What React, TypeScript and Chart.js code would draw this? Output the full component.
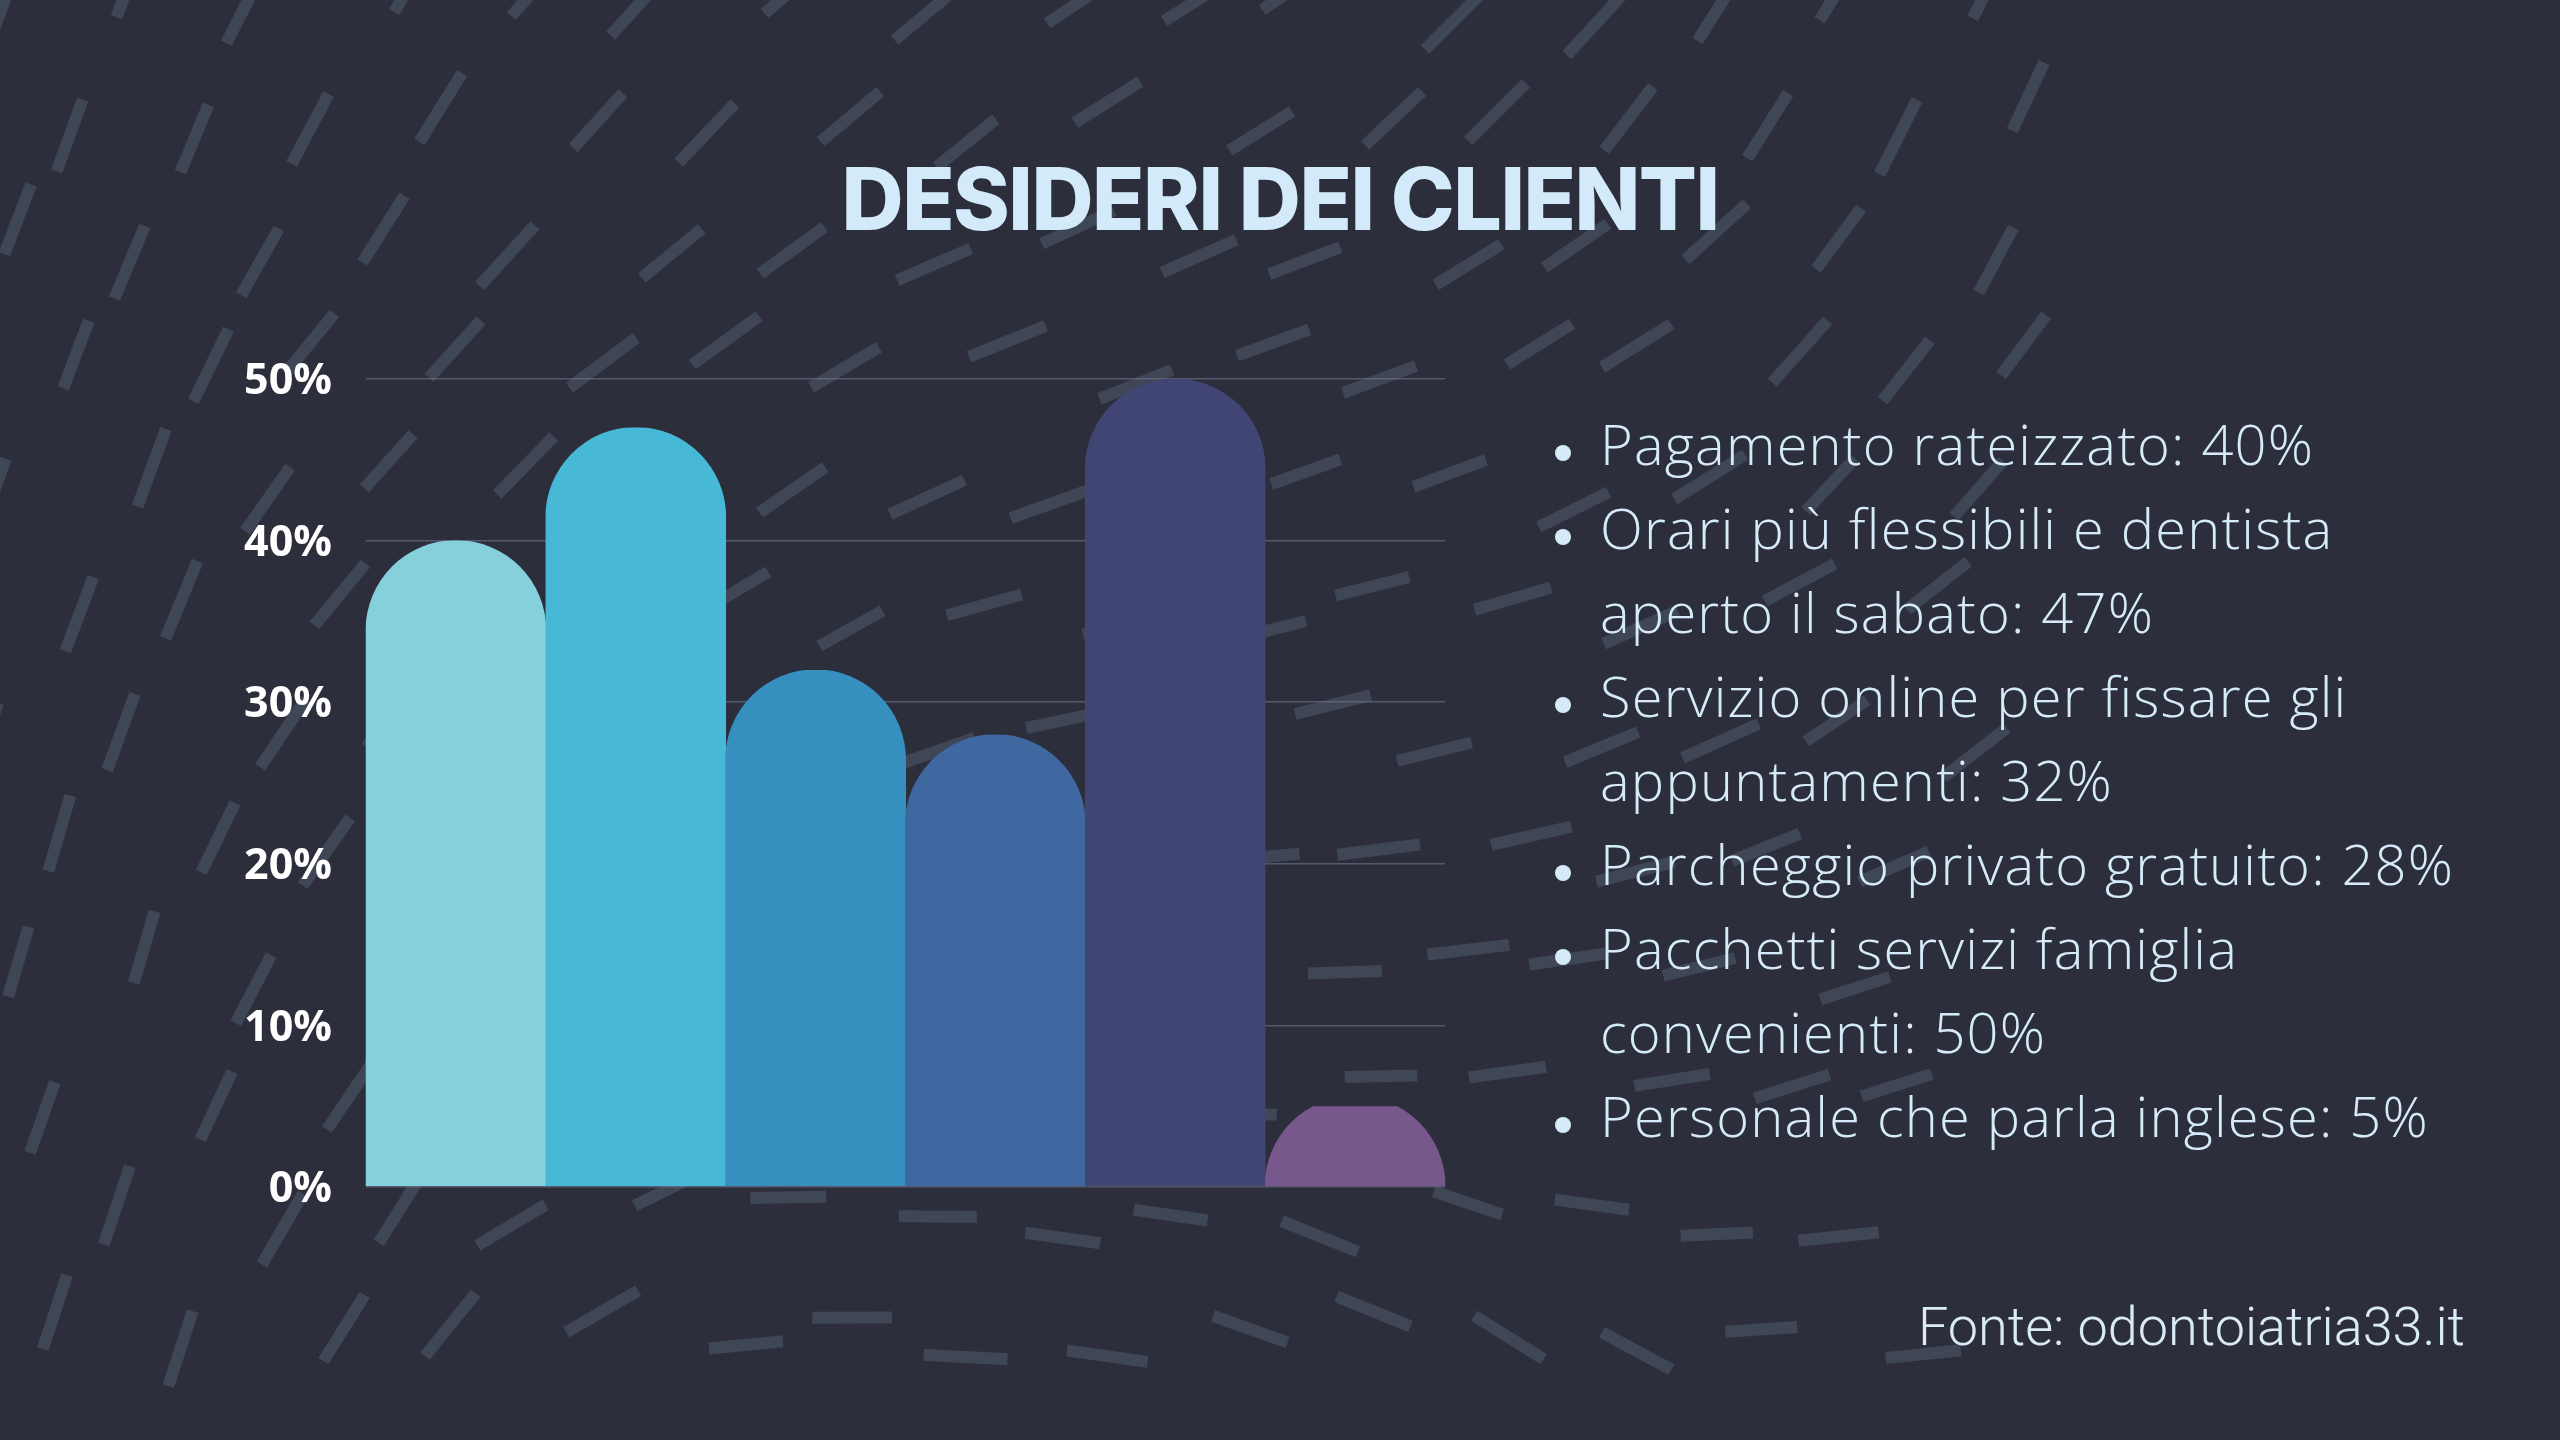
import React, { useEffect, useRef } from "react";
import { Chart, registerables } from "chart.js";

Chart.register(...registerables);

const categories = [
  "Pagamento rateizzato",
  "Orari più flessibili e dentista aperto il sabato",
  "Servizio online per fissare gli appuntamenti",
  "Parcheggio privato gratuito",
  "Pacchetti servizi famiglia convenienti",
  "Personale che parla inglese",
];
const values = [40, 47, 32, 28, 50, 5];
const barColors = ["#86d0dc", "#47b9d6", "#3590bf", "#3f67a0", "#414574", "#78588c"];
const yTicks = [0, 10, 20, 30, 40, 50];

const titleText = "DESIDERI DEI CLIENTI";
const listLines: string[][] = [
  ["Pagamento rateizzato: 40%"],
  ["Orari più flessibili e dentista", "aperto il sabato: 47%"],
  ["Servizio online per fissare gli", "appuntamenti: 32%"],
  ["Parcheggio privato gratuito: 28%"],
  ["Pacchetti servizi famiglia", "convenienti: 50%"],
  ["Personale che parla inglese: 5%"],
];
const sourceText = "Fonte: odontoiatria33.it";

const BG = "#2d2e3b";
const DASH_COLOR = "#3f4656";

// Orientation samples of the decorative dashed background: [x, y, angle in degrees, positive = rising to the right]
const dashFlow: number[][] = [
  [100, 80, 70], [320, 80, 62], [600, 80, 48], [900, 80, 40], [1200, 80, 32], [1480, 60, 45], [1750, 80, 58], [2000, 150, 65],
  [100, 480, 70], [400, 450, 48], [700, 400, 36], [1000, 330, 22], [1300, 350, 20], [1650, 350, 32], [1900, 380, 52],
  [100, 900, 74], [350, 850, 55], [750, 700, 30], [1100, 700, 12], [1400, 650, 14], [1700, 650, 24], [1950, 680, 38],
  [150, 1300, 72], [380, 1250, 58], [560, 1250, 30], [850, 1250, 0], [1100, 1260, -8], [1350, 1280, -22], [1500, 1350, -32],
  [1300, 1000, 2], [1550, 1050, 8], [1850, 1020, 18], [1900, 1280, 6], [700, 1020, 22],
];

function hash(i: number, j: number, k: number) {
  const s = Math.sin(i * 127.1 + j * 311.7 + k * 74.7) * 43758.5453;
  return s - Math.floor(s);
}

function flowAngle(x: number, y: number) {
  let sx = 0;
  let sy = 0;
  for (const [px, py, a] of dashFlow) {
    const d2 = (x - px) * (x - px) + (y - py) * (y - py) + 1;
    const w = 1 / (d2 * d2);
    const r = (2 * a * Math.PI) / 180;
    sx += w * Math.cos(r);
    sy += w * Math.sin(r);
  }
  return Math.atan2(sy, sx) / 2;
}

const backgroundPlugin = {
  id: "dashBackground",
  beforeDraw(chart: any) {
    const ctx = chart.ctx as CanvasRenderingContext2D;
    ctx.save();
    ctx.fillStyle = BG;
    ctx.fillRect(0, 0, chart.width, chart.height);
    ctx.strokeStyle = DASH_COLOR;
    ctx.lineWidth = 12;
    ctx.lineCap = "butt";
    const step = 132;
    for (let j = 0; j * step < 1500; j++) {
      for (let i = 0; i * step < 2200; i++) {
        const x = i * step + (j % 2 ? step / 2 : 0) + (hash(i, j, 1) - 0.5) * 50;
        const y = j * step * 0.92 + (hash(i, j, 2) - 0.5) * 50;
        if (x > 2060) continue;
        if (x > 1980 && y > 450) continue;
        const a = flowAngle(x, y);
        const len = 72 + hash(i, j, 3) * 12;
        const dx = (Math.cos(a) * len) / 2;
        const dy = (-Math.sin(a) * len) / 2;
        ctx.beginPath();
        ctx.moveTo(x - dx, y - dy);
        ctx.lineTo(x + dx, y + dy);
        ctx.stroke();
      }
    }
    ctx.restore();
  },
};

const pillBarsPlugin = {
  id: "pillBars",
  beforeDatasetDraw(chart: any, args: any) {
    const meta = args.meta;
    const ctx = chart.ctx as CanvasRenderingContext2D;
    ctx.save();
    meta.data.forEach((el: any) => {
      const { x, y, base, width } = el.getProps(["x", "y", "base", "width"], true);
      const r = width / 2;
      const cy = Math.min(y + r, base);
      ctx.save();
      ctx.beginPath();
      ctx.rect(x - r - 0.5, y, width + 1, base - y);
      ctx.clip();
      ctx.fillStyle = el.options.backgroundColor;
      ctx.beginPath();
      ctx.arc(x, cy, r + 0.5, Math.PI, 0);
      ctx.lineTo(x + r + 0.5, base);
      ctx.lineTo(x - r - 0.5, base);
      ctx.closePath();
      ctx.fill();
      ctx.restore();
    });
    ctx.restore();
    return false;
  },
};

export default function App() {
  const canvasRef = useRef<HTMLCanvasElement | null>(null);

  useEffect(() => {
    const canvas = canvasRef.current;
    if (!canvas) return;
    const chart = new Chart(canvas, {
      type: "bar",
      data: {
        labels: categories,
        datasets: [
          {
            data: values,
            backgroundColor: barColors,
            borderSkipped: "bottom",
            barPercentage: 1,
            categoryPercentage: 1,
            borderWidth: 0,
          },
        ],
      },
      options: {
        animation: false,
        responsive: false,
        devicePixelRatio: 1,
        layout: { padding: { left: 0, right: 1115, top: 379, bottom: 253 } },
        plugins: { legend: { display: false }, tooltip: { enabled: false }, title: { display: false } },
        scales: {
          x: { display: false },
          y: {
            min: 0,
            max: 50,
            afterFit: (scale: any) => {
              scale.width = 366;
            },
            afterBuildTicks: (scale: any) => {
              scale.ticks = yTicks.map((v) => ({ value: v }));
            },
            ticks: {
              color: "#ffffff",
              padding: 34,
              labelOffset: 3,
              font: { family: "'Open Sans'", weight: "bold", size: 43 },
              callback: (v: any) => `${v}%`,
            },
            grid: { color: "rgba(120,124,148,0.55)", lineWidth: 1.5, drawTicks: false },
            border: { display: false },
          },
        },
      },
      plugins: [backgroundPlugin, pillBarsPlugin],
    });
    return () => chart.destroy();
  }, []);

  return (
    <div
      style={{
        position: "absolute",
        left: 0,
        top: 0,
        width: 2560,
        height: 1440,
        background: BG,
        overflow: "hidden",
      }}
    >
      <canvas ref={canvasRef} width={2560} height={1440} style={{ position: "absolute", left: 0, top: 0, width: 2560, height: 1440 }} />
      <div
        style={{
          position: "absolute",
          left: 0,
          width: 2560,
          top: 156,
          textAlign: "center",
          fontFamily: "Inter",
          fontWeight: 800,
          fontSize: 86,
          lineHeight: "86px",
          letterSpacing: -1.5,
          color: "#d3eafb",
          whiteSpace: "nowrap",
        }}
      >
        {titleText}
      </div>
      <div
        style={{
          position: "absolute",
          left: 1600,
          top: 401,
          fontFamily: "'Open Sans'",
          fontWeight: 300,
          fontSize: 56,
          lineHeight: "84px",
          letterSpacing: 1.2,
          color: "#d6ebfa",
          whiteSpace: "nowrap",
          fontVariantLigatures: "none",
        }}
      >
        {listLines.map((item, i) => (
          <div key={i} style={{ position: "relative" }}>
            <span
              style={{
                position: "absolute",
                left: -45,
                top: 44,
                width: 16,
                height: 16,
                borderRadius: 8,
                background: "#d6ebfa",
              }}
            />
            {item.map((ln, j) => (
              <div key={j}>{ln}</div>
            ))}
          </div>
        ))}
      </div>
      <div
        style={{
          position: "absolute",
          right: 2560 - 2465,
          top: 1300,
          fontFamily: "Roboto",
          fontWeight: 300,
          fontSize: 54,
          lineHeight: "54px",
          color: "#d9ebf7",
          whiteSpace: "nowrap",
        }}
      >
        {sourceText}
      </div>
    </div>
  );
}
